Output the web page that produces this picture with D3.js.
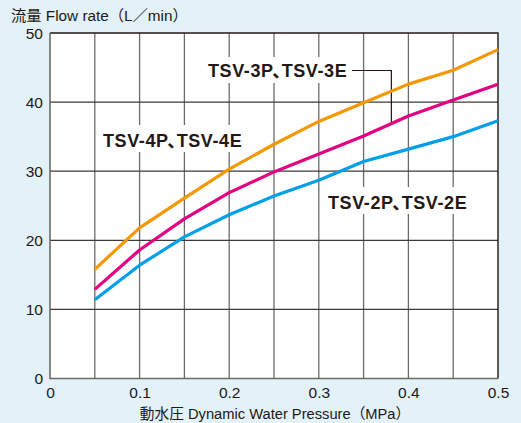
<!DOCTYPE html>
<html>
<head>
<meta charset="utf-8">
<script src="https://cdn.jsdelivr.net/npm/d3@7"></script>
<style>
  body { margin: 0; background: #e3f1f9; }
  svg { display: block; }
  text { font-family: "Liberation Sans", "Noto Sans CJK JP", sans-serif; fill: #231815; }
</style>
</head>
<body>
<div id="chart"></div>
<script>
// pressure (MPa)
var pressure = [0.05, 0.1, 0.15, 0.2, 0.25, 0.3, 0.35, 0.4, 0.45, 0.5];
// flow rate (L/min)
var flowOrange = [15.8, 21.8, 26.1, 30.3, 33.9, 37.2, 39.9, 42.6, 44.6, 47.6];
var flowPink   = [12.9, 18.6, 23.1, 26.9, 29.9, 32.5, 35.1, 38.0, 40.3, 42.6];
var flowBlue   = [11.4, 16.4, 20.5, 23.7, 26.4, 28.7, 31.4, 33.2, 35.0, 37.3];

var xTicks = [0, 0.1, 0.2, 0.3, 0.4, 0.5];
var yTicks = [0, 10, 20, 30, 40, 50];
var xGrid = [0.05, 0.1, 0.15, 0.2, 0.25, 0.3, 0.35, 0.4, 0.45];
var yGrid = [10, 20, 30, 40];

var width = 521, height = 423;
var margin = {left: 50, right: 23, top: 33, bottom: 44.5};

var svg = d3.select("#chart").append("svg")
    .attr("width", width)
    .attr("height", height);

var x = d3.scaleLinear().domain([0, 0.5]).range([margin.left, width - margin.right]);
var y = d3.scaleLinear().domain([0, 50]).range([height - margin.bottom, margin.top]);

// plot area
svg.append("rect")
    .attr("x", x(0)).attr("y", y(50))
    .attr("width", x(0.5) - x(0)).attr("height", y(0) - y(50))
    .attr("fill", "#fff");

// grid
svg.selectAll("line.vgrid").data(xGrid).enter().append("line")
    .attr("x1", function (d) { return x(d); }).attr("x2", function (d) { return x(d); })
    .attr("y1", y(0)).attr("y2", y(50))
    .attr("stroke", "#6f6a6a").attr("stroke-width", 1.3);

svg.selectAll("line.hgrid").data(yGrid).enter().append("line")
    .attr("x1", x(0)).attr("x2", x(0.5))
    .attr("y1", function (d) { return y(d); }).attr("y2", function (d) { return y(d); })
    .attr("stroke", "#3e3a39").attr("stroke-width", 1.3);

// frame: top/right dark, left/bottom grey
svg.append("path")
    .attr("d", "M" + x(0) + "," + y(50) + "H" + x(0.5) + "V" + y(0))
    .attr("fill", "none").attr("stroke", "#231815").attr("stroke-width", 1.4);
svg.append("path")
    .attr("d", "M" + x(0) + "," + y(50) + "V" + y(0) + "H" + x(0.5))
    .attr("fill", "none").attr("stroke", "#6f6a6a").attr("stroke-width", 1.6);

// axes (labels only)
var yAxis = svg.append("g")
    .attr("transform", "translate(" + (x(0) - 7) + ",0)")
    .call(d3.axisLeft(y).tickValues(yTicks).tickSize(0).tickPadding(0));
yAxis.select(".domain").remove();
yAxis.selectAll("text").attr("font-size", 15.5).attr("dy", "0.35em");

var xAxis = svg.append("g")
    .attr("transform", "translate(0," + y(0) + ")")
    .call(d3.axisBottom(x).tickValues(xTicks).tickSize(0).tickPadding(8)
        .tickFormat(function (d) { return d === 0 ? "0" : d3.format(".1f")(d); }));
xAxis.select(".domain").remove();
xAxis.selectAll("text").attr("font-size", 15.5);

// titles
svg.append("text").attr("x", 11).attr("y", 21).attr("font-size", 15.3)
    .text("流量 Flow rate（L／min）");
svg.append("text").attr("x", 275).attr("y", 419).attr("font-size", 14.7)
    .attr("text-anchor", "middle")
    .text("動水圧 Dynamic Water Pressure（MPa）");

// series labels with white boxes
var labels = [
    {a: "TSV-4P", b: "TSV-4E", x: 103, y: 147, bx: 98, bw: 152, by: 125, bh: 27},
    {a: "TSV-3P", b: "TSV-3E", x: 208, y: 77, bx: 202, bw: 150, by: 57, bh: 26},
    {a: "TSV-2P", b: "TSV-2E", x: 328, y: 208.5, bx: 323, bw: 153, by: 187, bh: 27}
];
svg.selectAll("rect.lbl").data(labels).enter().append("rect")
    .attr("x", function (d) { return d.bx; }).attr("y", function (d) { return d.by; })
    .attr("width", function (d) { return d.bw; }).attr("height", function (d) { return d.bh; })
    .attr("fill", "#fff");
// the ideographic comma is set tight, as in the print original
var lbl = svg.selectAll("text.lbl").data(labels).enter().append("text")
    .attr("x", function (d) { return d.x; }).attr("y", function (d) { return d.y; })
    .attr("font-size", 18).attr("font-weight", "bold")
    .attr("letter-spacing", 0.6)
    .text(function (d) { return d.a; });
lbl.append("tspan").attr("font-family", "Noto Sans CJK JP")
    .attr("dx", -1.5).attr("letter-spacing", -8.5).text("、");
lbl.append("tspan").text(function (d) { return d.b; });

// leader line for TSV-3P
svg.append("path")
    .attr("d", "M352,70.5H" + x(0.381) + "V" + y(37.1))
    .attr("fill", "none").attr("stroke", "#231815").attr("stroke-width", 1.2);

// curves
var series = [
    {values: flowBlue, color: "#00a0e9"},
    {values: flowPink, color: "#e4007f"},
    {values: flowOrange, color: "#f39800"}
];
var line = d3.line()
    .x(function (d, i) { return x(pressure[i]); })
    .y(function (d) { return y(d); });

svg.selectAll("path.series").data(series).enter().append("path")
    .attr("d", function (d) { return line(d.values); })
    .attr("fill", "none")
    .attr("stroke", function (d) { return d.color; })
    .attr("stroke-width", 3.2)
    .attr("stroke-linejoin", "round");
</script>
</body>
</html>
